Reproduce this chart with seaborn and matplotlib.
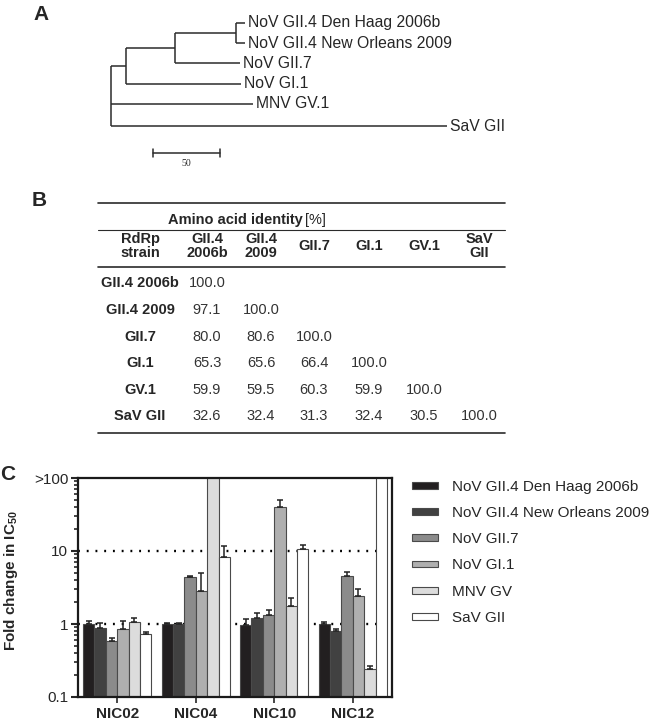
import numpy as np
import pandas as pd
import matplotlib
matplotlib.use("Agg")
import matplotlib.pyplot as plt
from matplotlib.ticker import LogLocator, NullFormatter
import seaborn as sns

# ---- panel A: RdRp tree (cladogram) ----
tree_leaves = ["NoV GII.4 Den Haag 2006b", "NoV GII.4 New Orleans 2009", "NoV GII.7",
               "NoV GI.1", "MNV GV.1", "SaV GII"]
# nodes: 0 root, 1 NoV, 2 GII, 3 GII.4, then the leaves 4..9 in the order above
tree_parent = [-1, 0, 1, 2, 3, 3, 2, 1, 0, 0]
tree_branch = [0, 11, 37, 45, 7, 7, 48, 86, 106, 251]
scale_len = 50

# ---- panel B: amino acid identity table ----
row_labels = ["GII.4 2006b", "GII.4 2009", "GII.7", "GI.1", "GV.1", "SaV GII"]
col_labels = ["RdRp\nstrain", "GII.4\n2006b", "GII.4\n2009", "GII.7", "GI.1", "GV.1", "SaV\nGII"]
identity = [
    [100.0],
    [97.1, 100.0],
    [80.0, 80.6, 100.0],
    [65.3, 65.6, 66.4, 100.0],
    [59.9, 59.5, 60.3, 59.9, 100.0],
    [32.6, 32.4, 31.3, 32.4, 30.5, 100.0],
]

# ---- panel C: fold change in IC50 (1000 = off scale, ">100") ----
compounds = ["NIC02", "NIC04", "NIC10", "NIC12"]
strains = ["NoV GII.4 Den Haag 2006b", "NoV GII.4 New Orleans 2009", "NoV GII.7",
           "NoV GI.1", "MNV GV", "SaV GII"]
fold_gii4_2006b = [1.0, 1.0, 0.98, 1.0]
fold_gii4_2009 = [0.88, 1.0, 1.22, 0.79]
fold_gii7 = [0.59, 4.4, 1.32, 4.6]
fold_gi1 = [0.85, 2.85, 40.5, 2.4]
fold_mnv = [1.08, 1000, 1.76, 0.245]
fold_sav = [0.72, 8.4, 10.8, 1000]
err_gii4_2006b = [0.09, 0.03, 0.18, 0.05]
err_gii4_2009 = [0.15, 0.03, 0.21, 0.07]
err_gii7 = [0.06, 0.1, 0.23, 0.5]
err_gi1 = [0.26, 2.1, 9.5, 0.6]
err_mnv = [0.12, np.nan, 0.5, 0.022]
err_sav = [0.06, 3.3, 1.4, np.nan]
bar_colors = ["#221f20", "#414141", "#8b8b8b", "#afafaf", "#dcdcdc", "#ffffff"]

folds = [fold_gii4_2006b, fold_gii4_2009, fold_gii7, fold_gi1, fold_mnv, fold_sav]
errs = [err_gii4_2006b, err_gii4_2009, err_gii7, err_gi1, err_mnv, err_sav]
df = pd.DataFrame({
    "compound": np.tile(compounds, len(strains)),
    "strain": np.repeat(strains, len(compounds)),
    "fold": np.concatenate(folds),
})

sns.set_style("ticks")
plt.rcParams["font.family"] = ["Liberation Sans", "DejaVu Sans"]
plt.rcParams["mathtext.fontset"] = "custom"
plt.rcParams["mathtext.rm"] = "Liberation Sans"
plt.rcParams["mathtext.bf"] = "Liberation Sans:bold"

W, H = 650, 727
fig = plt.figure(figsize=(W / 100, H / 100), dpi=100)

# layout axes in pixel units for panels A and B
lay = fig.add_axes([0, 0, 1, 1])
lay.set_xlim(0, W)
lay.set_ylim(H, 0)
lay.axis("off")

line_c = "#2b2b2b"
for letter, (lx, ly) in zip("ABC", [(33, 15), (32, 200), (0, 475)]):
    lay.text(lx, ly, letter, fontsize=15, fontweight="bold", va="center", ha="left")

# --- tree ---
x0, y0, k, dy = 111, 23, 1.34, 20.2
n = len(tree_parent)
nx = [0.0] * n
for i in range(1, n):
    nx[i] = nx[tree_parent[i]] + tree_branch[i]
ny = [0.0] * n
leaf_ids = list(range(4, n))
for r, i in enumerate(leaf_ids):
    ny[i] = r
ny[-1] += 0.1
for i in reversed(range(4)):
    kids = [c for c in range(n) if tree_parent[c] == i]
    ny[i] = (min(ny[c] for c in kids) + max(ny[c] for c in kids)) / 2
    lay.plot([x0 + nx[i] * k] * 2,
             [y0 + min(ny[c] for c in kids) * dy, y0 + max(ny[c] for c in kids) * dy],
             color=line_c, lw=1.1, solid_capstyle="butt")
for i in range(1, n):
    p = tree_parent[i]
    lay.plot([x0 + nx[p] * k, x0 + nx[i] * k], [y0 + ny[i] * dy] * 2,
             color=line_c, lw=1.1, solid_capstyle="butt")
for name, i in zip(tree_leaves, leaf_ids):
    lay.text(x0 + nx[i] * k + 3, y0 + ny[i] * dy, name, fontsize=11.3, va="center", ha="left")

sb_x, sb_y = 153, 153
lay.plot([sb_x, sb_x + scale_len * k], [sb_y, sb_y], color=line_c, lw=1.1)
for xx in (sb_x, sb_x + scale_len * k):
    lay.plot([xx, xx], [sb_y - 4, sb_y + 4], color=line_c, lw=1.1)
lay.text(sb_x + scale_len * k / 2, sb_y + 11, str(scale_len), fontsize=7,
         family="Liberation Serif", ha="center", va="center")

# --- table ---
tx0, tx1 = 98, 505
col_x = [140, 207, 261, 314, 369, 424, 479]
row_y = [283, 310, 337, 363, 390, 416]
lay.plot([tx0, tx1], [203, 203], color=line_c, lw=1.2)
lay.plot([tx0, tx1], [230, 230], color=line_c, lw=0.8)
lay.plot([tx0, tx1], [267, 267], color=line_c, lw=1.2)
lay.plot([tx0, tx1], [433, 433], color=line_c, lw=1.2)
lay.text(303, 220, "Amino acid identity", fontsize=10.5, fontweight="bold", ha="right", va="center")
lay.text(305, 220, "[%]", fontsize=10.5, ha="left", va="center")
for cx, lab in zip(col_x, col_labels):
    lay.text(cx, 246, lab, fontsize=10.5, fontweight="bold", ha="center", va="center",
             linespacing=1.08)
for ry, lab, vals in zip(row_y, row_labels, identity):
    lay.text(col_x[0], ry, lab, fontsize=10.5, fontweight="bold", ha="center", va="center")
    for cx, v in zip(col_x[1:], vals):
        lay.text(cx, ry, f"{v:.1f}", fontsize=10.5, color="#333333", ha="center", va="center")

# --- bar chart ---
ax = fig.add_axes([78 / W, 1 - 697 / H, 314 / W, 219 / H])
ax.set_yscale("log")
sns.barplot(data=df, x="compound", y="fold", hue="strain", order=compounds,
            hue_order=strains, palette=bar_colors, width=0.87, errorbar=None,
            edgecolor="#4a4a4a", linewidth=0.8, saturation=1, ax=ax)
bars = list(ax.containers)
for cont, err in zip(bars, errs):
    for patch, e in zip(cont.patches, err):
        if np.isnan(e):
            continue
        ax.errorbar(patch.get_x() + patch.get_width() / 2, patch.get_height(),
                    yerr=[[0], [e]], fmt="none", ecolor="#222222", elinewidth=1.1,
                    capsize=2.5, capthick=1.1, zorder=3)
for yy in (1, 10):
    ax.axhline(yy, color="black", lw=1.7, ls=(0, (0.8, 2.9)), zorder=0.5)

ax.set_ylim(0.1, 100)
ax.set_xlim(-0.5, 3.5)
ax.set_yticks([0.1, 1, 10, 100])
ax.set_yticklabels(["0.1", "1", "10", ">100"], fontsize=11)
ax.yaxis.set_minor_locator(LogLocator(base=10, subs=np.arange(2, 10)))
ax.yaxis.set_minor_formatter(NullFormatter())
ax.tick_params(axis="y", which="major", length=5, width=1.5, direction="out", pad=2)
ax.tick_params(axis="y", which="minor", length=3, width=1.2, direction="out")
ax.tick_params(axis="x", length=4, width=1.2, direction="out")
ax.set_xticks(range(len(compounds)))
ax.set_xticklabels(compounds, fontsize=11, fontweight="bold")
ax.set_xlabel("")
ax.set_ylabel(r"Fold change in IC$_{\mathbf{50}}$", fontsize=11, fontweight="bold")
ax.yaxis.set_label_coords(-58 / 314, 0.53)
for s in ax.spines.values():
    s.set_visible(True)
    s.set_linewidth(1.6)
    s.set_color("#1a1a1a")

ax.legend(loc="upper left", bbox_to_anchor=(398 / W, 1 - 466 / H),
          bbox_transform=fig.transFigure, frameon=False, fontsize=11,
          handlelength=1.7, handleheight=0.3, labelspacing=0.8, handletextpad=0.95)

fig.savefig("out.png", dpi=100)
